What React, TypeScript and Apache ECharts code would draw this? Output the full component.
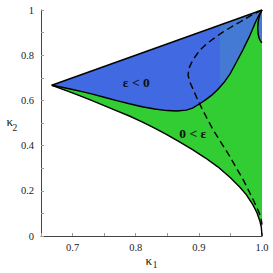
import React, { useEffect, useRef } from "react";
import * as echarts from "echarts";

// Upper boundary (kappa2 = kappa1 edge)
const topK1 = [0.667, 1.0];
const topK2 = [0.667, 1.0];

// Boundary between eps<0 (blue) and 0<eps (green)
const midK1 = [0.667, 0.685, 0.7, 0.715, 0.73, 0.75, 0.77, 0.79, 0.81, 0.83, 0.85, 0.865, 0.88, 0.89, 0.9, 0.91, 0.92, 0.93, 0.94, 0.95, 0.96, 0.97, 0.98, 0.99, 0.995, 1.0];
const midK2 = [0.667, 0.657, 0.648, 0.639, 0.629, 0.614, 0.599, 0.585, 0.572, 0.562, 0.555, 0.553, 0.557, 0.566, 0.583, 0.601, 0.622, 0.648, 0.68, 0.72, 0.772, 0.825, 0.882, 0.948, 0.976, 1.0];

// Small cusp near (1,1)
const cuspK1 = [1.0, 0.9965, 0.994, 0.9933, 0.9938, 0.9955, 0.998, 1.0];
const cuspK2 = [1.0, 0.978, 0.95, 0.92, 0.895, 0.874, 0.861, 0.855];

// Right edge kappa1 = 1
const edgeK1 = [1.0, 1.0];
const edgeK2 = [0.855, 0.0];

// Lower boundary of the green region
const lowK1 = [0.667, 0.69, 0.71, 0.73, 0.75, 0.77, 0.79, 0.81, 0.83, 0.85, 0.87, 0.89, 0.91, 0.93, 0.95, 0.965, 0.975, 0.985, 0.992, 0.997, 0.999, 1.0];
const lowK2 = [0.667, 0.643, 0.622, 0.6, 0.577, 0.554, 0.531, 0.505, 0.477, 0.447, 0.415, 0.382, 0.346, 0.306, 0.258, 0.216, 0.183, 0.141, 0.103, 0.063, 0.037, 0.0];

// Dashed curve
const dashK1 = [1.0, 0.99, 0.98, 0.966, 0.952, 0.939, 0.926, 0.913, 0.902, 0.894, 0.888, 0.884, 0.883, 0.886, 0.8915, 0.897, 0.902, 0.913, 0.923, 0.936, 0.9495, 0.96, 0.9706, 0.979, 0.9864, 0.992, 0.996, 0.999, 1.0];
const dashK2 = [1.0, 0.986, 0.972, 0.948, 0.926, 0.904, 0.879, 0.852, 0.823, 0.793, 0.765, 0.74, 0.71, 0.68, 0.645, 0.61, 0.58, 0.52, 0.468, 0.41, 0.35, 0.298, 0.247, 0.2, 0.158, 0.125, 0.099, 0.07, 0.05];

// Region labels
const regionLabels = ["ε < 0", "0 < ε"];
const labelK1 = [0.801, 0.8905];
const labelK2 = [0.681, 0.452];

// Shade change of the blue region
const shadeK1 = 0.934;

const xTicksShown = [0.7, 0.8, 0.9, 1.0];
const yTicksShown = [0, 0.2, 0.4, 0.6, 0.8, 1];

const pairs = (a: number[], b: number[]) => a.map((v, i) => [v, b[i]]);
const rev = (p: number[][]) => p.slice().reverse();

export default function App() {
  const ref = useRef<HTMLDivElement>(null);
  useEffect(() => {
    if (!ref.current) return;
    const chart = echarts.init(ref.current, null, { renderer: "svg" });
    const top = pairs(topK1, topK2);
    const mid = pairs(midK1, midK2);
    const cusp = pairs(cuspK1, cuspK2);
    const edge = pairs(edgeK1, edgeK2);
    const low = pairs(lowK1, lowK2);
    const dash = pairs(dashK1, dashK2);

    const bluePoly = [...top, ...edge, ...rev(low)];
    const greenPoly = [...mid, ...cusp, ...edge, ...rev(low)];

    const serif = "'Liberation Serif', 'DejaVu Serif', serif";
    const lineSeries = (data: number[][], dashed = false) => ({
      type: "line",
      data,
      showSymbol: false,
      symbol: "none",
      smooth: false,
      z: 5,
      lineStyle: { color: "#000", width: 1.4, type: dashed ? [7, 4] : "solid" },
      silent: true,
    });

    chart.setOption({
      animation: false,
      grid: { left: 41, right: 11, top: 10, bottom: 37, containLabel: false, outerBoundsMode: "none" },
      xAxis: {
        type: "value",
        min: 0.65,
        max: 1.0,
        interval: 0.05,
        axisLine: { show: true, onZero: false, lineStyle: { color: "#444", width: 1 } },
        axisTick: { show: true, inside: true, length: 3, lineStyle: { color: "#999" } },
        splitLine: { show: false },
        axisLabel: {
          margin: 6,
          color: "#222",
          fontFamily: serif,
          fontSize: 10.5,
          formatter: (v: number) =>
            xTicksShown.some((t) => Math.abs(t - v) < 1e-6) ? v.toFixed(1) : "",
        },
      },
      yAxis: {
        type: "value",
        min: 0,
        max: 1,
        interval: 0.1,
        axisLine: { show: true, onZero: false, lineStyle: { color: "#444", width: 1 } },
        axisTick: { show: true, inside: true, length: 3, lineStyle: { color: "#999" } },
        splitLine: { show: false },
        axisLabel: {
          margin: 7,
          color: "#222",
          fontFamily: serif,
          fontSize: 10.5,
          formatter: (v: number) => {
            if (!yTicksShown.some((t) => Math.abs(t - v) < 1e-6)) return "";
            const r = Math.round(v * 10) / 10;
            return r === 0 ? "0" : r === 1 ? "1" : r.toFixed(1);
          },
        },
      },
      graphic: [
        { type: "text", x: 9.7, y: 121.5, style: { text: "κ", font: `13px ${serif}`, fill: "#222", textAlign: "center", textVerticalAlign: "middle" } },
        { type: "text", x: 14.8, y: 127.5, style: { text: "2", font: `9.5px ${serif}`, fill: "#222", textAlign: "center", textVerticalAlign: "middle" } },
        { type: "text", x: 148.8, y: 260.5, style: { text: "κ", font: `13px ${serif}`, fill: "#222", textAlign: "center", textVerticalAlign: "middle" } },
        { type: "text", x: 155, y: 265, style: { text: "1", font: `9.5px ${serif}`, fill: "#222", textAlign: "center", textVerticalAlign: "middle" } },
      ],
      series: [
        {
          type: "custom",
          coordinateSystem: "cartesian2d",
          data: [[0.8, 0.5]],
          z: 1,
          silent: true,
          renderItem: (params: any, api: any) => {
            const c = (p: number[]) => api.coord(p);
            const sx = api.coord([shadeK1, 0])[0];
            const x0 = api.coord([0.65, 0])[0];
            const x1 = api.coord([1.0, 0])[0];
            const f = (sx - x0) / (x1 - x0);
            return {
              type: "group",
              children: [
                {
                  type: "polygon",
                  shape: { points: bluePoly.map(c) },
                  style: {
                    fill: new echarts.graphic.LinearGradient(x0, 0, x1, 0, [
                      { offset: 0, color: "#4169e1" },
                      { offset: f, color: "#4169e1" },
                      { offset: f, color: "#4479d4" },
                      { offset: 1, color: "#4479d4" },
                    ], true),
                    stroke: "none",
                  },
                },
                {
                  type: "polygon",
                  shape: { points: greenPoly.map(c) },
                  style: { fill: "#32cd32", stroke: "none" },
                },
              ],
            };
          },
        },
        lineSeries(top),
        lineSeries(mid),
        lineSeries(cusp),
        lineSeries(low),
        lineSeries(dash, true),
        {
          type: "custom",
          coordinateSystem: "cartesian2d",
          data: regionLabels.map((_, i) => [labelK1[i], labelK2[i]]),
          z: 10,
          silent: true,
          renderItem: (params: any, api: any) => {
            const i = params.dataIndex;
            const p = api.coord([labelK1[i], labelK2[i]]);
            return {
              type: "text",
              x: p[0],
              y: p[1],
              style: {
                text: regionLabels[i],
                font: `bold 13.5px ${serif}`,
                fill: "#111",
                textAlign: "center",
                textVerticalAlign: "middle",
              },
            };
          },
        },
      ],
    });
    return () => chart.dispose();
  }, []);
  return (
    <div
      ref={ref}
      style={{ position: "fixed", left: 0, top: 0, width: 273, height: 273, background: "#fff" }}
    />
  );
}
